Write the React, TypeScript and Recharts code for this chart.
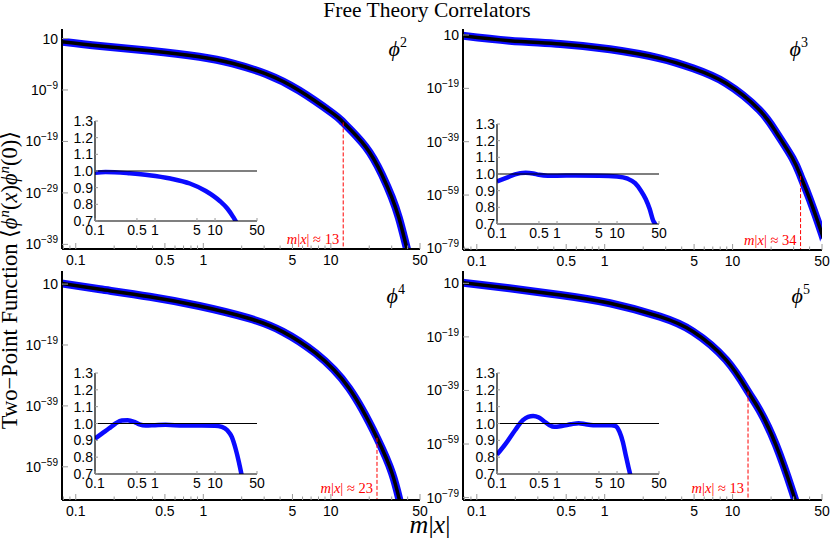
import React from 'react';
import { LineChart, Line, XAxis, YAxis, ReferenceLine, ReferenceDot } from 'recharts';

// ---------------- data ----------------
const mainXMajor = [0.1, 0.5, 1, 5, 10, 50];
const mainXMinor = [0.08, 0.09, 0.2, 0.3, 0.4, 0.6, 0.7, 0.8, 0.9, 2, 3, 4, 6, 7, 8, 9, 20, 30, 40];
const insetXMajor = [0.1, 0.5, 1, 5, 10, 50];
const insetYTicks = [0.7, 0.8, 0.9, 1.0, 1.1, 1.2, 1.3];

// main curves: x = m|x|, value given as log10 of the correlator
const phi2X = [0.075, 0.155, 0.38, 0.93, 1.69, 3.1, 5.64, 10.3, 12.5, 18.7, 25.2, 30, 34.1, 38, 42];
const phi2LogY = [0.42, -0.45, -1.36, -2.53, -3.81, -5.89, -9.1, -13.5, -15.3, -20.0, -25.5, -29.8, -33.8, -38.2, -42.5];

const phi3X = [0.075, 0.18, 0.45, 1.1, 2.7, 4.9, 8.9, 16.2, 21.8, 29.4, 34, 40.1, 50, 52];
const phi3LogY = [0.8, -1.14, -2.38, -4.37, -7.75, -11.5, -17.1, -27.1, -35.3, -45.2, -51.9, -60.5, -73.6, -76.5];

const phi4X = [0.075, 0.155, 0.38, 0.93, 2.26, 4.18, 7.6, 13.9, 23, 30.2, 34.5, 37];
const phi4LogY = [1.3, -0.71, -3.14, -6.19, -10.2, -14.6, -21.7, -33.2, -49.5, -61.1, -69.9, -75];

const phi5X = [0.075, 0.18, 0.45, 1.1, 2.7, 4.9, 8.9, 13.2, 16.2, 21.8, 29.4, 32, 35];
const phi5LogY = [1.28, -0.86, -3.36, -6.45, -11.45, -17.0, -27.6, -39.4, -46.3, -59.3, -76.8, -82.5, -89];

// inset ratio curves
const ratio2X = [0.1, 0.15, 0.38, 0.8, 1.8, 3.8, 7, 12, 16, 20, 22, 24];
const ratio2Y = [0.99, 0.994, 0.986, 0.975, 0.955, 0.925, 0.88, 0.82, 0.775, 0.725, 0.70, 0.67];

const ratio3X = [0.1, 0.15, 0.2, 0.3, 0.4, 0.5, 0.7, 1, 2, 5, 10, 15, 20, 25, 30, 35, 40, 43, 46];
const ratio3Y = [0.955, 0.98, 0.998, 1.007, 1.003, 0.995, 0.99, 0.99, 0.991, 0.99, 0.985, 0.972, 0.945, 0.9, 0.85, 0.79, 0.72, 0.70, 0.66];

const ratio4X = [0.1, 0.13, 0.17, 0.22, 0.28, 0.35, 0.45, 0.55, 0.7, 1, 1.5, 3, 6, 10, 13, 16, 19, 22, 25, 27.5, 29];
const ratio4Y = [0.91, 0.94, 0.97, 1.0, 1.018, 1.02, 1.01, 0.995, 0.988, 0.99, 0.992, 0.988, 0.988, 0.987, 0.98, 0.96, 0.92, 0.85, 0.77, 0.70, 0.66];

const ratio5X = [0.1, 0.14, 0.2, 0.27, 0.33, 0.4, 0.5, 0.6, 0.75, 0.9, 1.2, 1.7, 2.3, 3, 4, 6, 8, 9.5, 11, 12.5, 14, 15.5, 16.5, 17.5];
const ratio5Y = [0.815, 0.88, 0.96, 1.02, 1.04, 1.045, 1.035, 1.015, 0.99, 0.98, 0.985, 0.995, 1.002, 0.995, 0.99, 0.99, 0.99, 0.985, 0.95, 0.89, 0.81, 0.74, 0.70, 0.66];

const powers = [2, 3, 4, 5];
const yRangeExp = [[-39.9, 2.85], [-79.6, 3.25], [-69.9, 5.3], [-79.9, 5.6]];
const yTickExps = [[1, -9, -19, -29, -39], [1, -19, -39, -59, -79], [1, -19, -39, -59], [1, -19, -39, -59, -79]];
const redX = [12.5, 34, 23, 13.2];
const redTopExp = [-15.3, -51.9, -49.5, -39.4];
const redText = ['13', '34', '23', '13'];
const xDomainMain = [0.078, 50];
const xDomainInset = [0.1, 50];

// ---------------- layout / style ----------------
const FONT_SANS = '"Liberation Sans", Arial, Helvetica, sans-serif';
const FONT_SERIF = '"Liberation Serif", "Times New Roman", "DejaVu Serif", serif';
const BLUE = '#0a0aff';
const TICK_FS = 14;

const mainFrames = [
  { l: 62, t: 29, r: 420, b: 249 },
  { l: 463, t: 29, r: 822, b: 250 },
  { l: 62, t: 271, r: 420, b: 500 },
  { l: 463, t: 271, r: 822, b: 500 },
];
const insetFrames = [
  { l: 95, t: 121, r: 257, b: 221 },
  { l: 497, t: 124, r: 659, b: 224 },
  { l: 95, t: 373, r: 257, b: 474 },
  { l: 497, t: 373, r: 659, b: 474 },
];
const redLabelOffset = [5.5, 5.5, 7.5, 7.5];
const phiLabelPos = [
  { x: 407, y: 56 },
  { x: 808, y: 56 },
  { x: 405, y: 303 },
  { x: 810, y: 303 },
];

const mainSeries = [
  { xs: phi2X, ys: phi2LogY },
  { xs: phi3X, ys: phi3LogY },
  { xs: phi4X, ys: phi4LogY },
  { xs: phi5X, ys: phi5LogY },
];
const ratioSeries = [
  { xs: ratio2X, ys: ratio2Y },
  { xs: ratio3X, ys: ratio3Y },
  { xs: ratio4X, ys: ratio4Y },
  { xs: ratio5X, ys: ratio5Y },
];

const fmtNum = (v: number) => String(v);

const mainXTick = (side: 'bottom' | 'top') => (p: any) => {
  const { x, y, payload } = p;
  const v = payload.value;
  const major = mainXMajor.includes(v);
  const len = major ? 6 : 3.5;
  const dir = side === 'top' ? 1 : -1;
  return (
    <g>
      <line x1={x} x2={x} y1={y} y2={y + dir * len} stroke="#9a9a9a" strokeWidth={1} />
      {major && side === 'bottom' ? (
        <text x={x} y={y + 16} textAnchor="middle" fontSize={TICK_FS} fontFamily={FONT_SANS} fill="#000">
          {fmtNum(v)}
        </text>
      ) : null}
    </g>
  );
};

const mainYTick = (side: 'left' | 'right') => (p: any) => {
  const { x, y, payload } = p;
  const e = Math.round(Math.log10(payload.value));
  const dir = side === 'left' ? 1 : -1;
  return (
    <g>
      <line x1={x} x2={x + dir * 6} y1={y} y2={y} stroke="#9a9a9a" strokeWidth={1} />
      {side === 'left' ? (
        <text x={x - 4} y={y + 5} textAnchor="end" fontSize={TICK_FS} fontFamily={FONT_SANS} fill="#000">
          {e === 1 ? (
            '10'
          ) : (
            <>
              10
              <tspan dy={-6} fontSize={10}>
                {'\u2212' + Math.abs(e)}
              </tspan>
            </>
          )}
        </text>
      ) : null}
    </g>
  );
};

const insetXTick = (side: 'bottom' | 'top') => (p: any) => {
  const { x, y, payload } = p;
  const dir = side === 'top' ? 1 : -1;
  return (
    <g>
      <line x1={x} x2={x} y1={y} y2={y + dir * 3} stroke="#9a9a9a" strokeWidth={1} />
      {side === 'bottom' ? (
        <text x={x} y={y + 14} textAnchor="middle" fontSize={TICK_FS} fontFamily={FONT_SANS} fill="#000">
          {fmtNum(payload.value)}
        </text>
      ) : null}
    </g>
  );
};

const insetYTick = (side: 'left' | 'right') => (p: any) => {
  const { x, y, payload } = p;
  const dir = side === 'left' ? 1 : -1;
  return (
    <g>
      <line x1={x} x2={x + dir * 3} y1={y} y2={y} stroke="#9a9a9a" strokeWidth={1} />
      {side === 'left' ? (
        <text x={x - 2} y={y + 5} textAnchor="end" fontSize={TICK_FS} fontFamily={FONT_SANS} fill="#000">
          {Number(payload.value).toFixed(1)}
        </text>
      ) : null}
    </g>
  );
};

function MainPanel({ idx }: { idx: number }) {
  const f = mainFrames[idx];
  const [lo, hi] = yRangeExp[idx];
  const yMin = Math.pow(10, lo);
  const yMax = Math.pow(10, hi);
  const ticks = yTickExps[idx].map((e) => Math.pow(10, e));
  const s = mainSeries[idx];
  const data = s.xs.map((x, i) => ({ x, y: Math.pow(10, s.ys[i]) }));
  const YW = 60;
  const XH = 30;
  const MT = 12;
  const MR = 16;
  const rx = redX[idx];
  const rTop = Math.pow(10, redTopExp[idx]);
  const off = redLabelOffset[idx];
  return (
    <div style={{ position: 'absolute', left: f.l - YW, top: f.t - MT }}>
      <LineChart
        width={f.r - f.l + YW + MR}
        height={f.b - f.t + MT + XH}
        margin={{ top: MT, right: MR, bottom: 0, left: 0 }}
      >
        <XAxis
          xAxisId="b"
          type="number"
          dataKey="x"
          scale="log"
          domain={xDomainMain}
          allowDataOverflow
          ticks={[...mainXMajor, ...mainXMinor]}
          interval={0}
          tickSize={0}
          tickMargin={0}
          height={XH}
          axisLine={{ stroke: '#000', strokeWidth: 2 }}
          tickLine={false}
          tick={mainXTick('bottom')}
        />
        <XAxis
          xAxisId="t"
          orientation="top"
          type="number"
          dataKey="x"
          scale="log"
          domain={xDomainMain}
          allowDataOverflow
          ticks={[...mainXMajor, ...mainXMinor]}
          interval={0}
          tickSize={0}
          tickMargin={0}
          height={0}
          axisLine={{ stroke: '#000', strokeWidth: 2 }}
          tickLine={false}
          tick={mainXTick('top')}
        />
        <YAxis
          yAxisId="l"
          type="number"
          scale="log"
          domain={[yMin, yMax]}
          allowDataOverflow
          ticks={ticks}
          interval={0}
          tickSize={0}
          tickMargin={0}
          width={YW}
          axisLine={{ stroke: '#000', strokeWidth: 2 }}
          tickLine={false}
          tick={mainYTick('left')}
        />
        <YAxis
          yAxisId="r"
          orientation="right"
          type="number"
          scale="log"
          domain={[yMin, yMax]}
          allowDataOverflow
          ticks={ticks}
          interval={0}
          tickSize={0}
          tickMargin={0}
          width={0}
          axisLine={{ stroke: '#000', strokeWidth: 2 }}
          tickLine={false}
          tick={mainYTick('right')}
        />
        <Line
          xAxisId="b"
          yAxisId="l"
          data={data}
          dataKey="y"
          type="natural"
          stroke={BLUE}
          strokeWidth={8}
          dot={false}
          isAnimationActive={false}
        />
        <Line
          xAxisId="b"
          yAxisId="l"
          data={data}
          dataKey="y"
          type="natural"
          stroke="#000"
          strokeWidth={3.5}
          dot={false}
          isAnimationActive={false}
        />
        <ReferenceLine
          xAxisId="b"
          yAxisId="l"
          segment={[
            { x: rx, y: rTop },
            { x: rx, y: yMin },
          ]}
          stroke="#ff0000"
          strokeWidth={1}
          strokeDasharray="4 2"
          ifOverflow="visible"
        />
        <ReferenceDot
          xAxisId="b"
          yAxisId="l"
          x={rx}
          y={yMin}
          r={0}
          ifOverflow="visible"
          shape={(p: any) => (
            <text
              x={p.cx - 4}
              y={p.cy - off}
              textAnchor="end"
              fontSize={14.5}
              fontFamily={FONT_SERIF}
              fill="#ff0000"
            >
              <tspan fontStyle="italic">m</tspan>|<tspan fontStyle="italic">x</tspan>| ≈ {redText[idx]}
            </text>
          )}
        />
      </LineChart>
    </div>
  );
}

function InsetPanel({ idx }: { idx: number }) {
  const f = insetFrames[idx];
  const s = ratioSeries[idx];
  const data = s.xs.map((x, i) => ({ x, y: s.ys[i] }));
  const YW = 35;
  const XH = 22;
  const MT = 10;
  const MR = 14;
  return (
    <div style={{ position: 'absolute', left: f.l - YW, top: f.t - MT }}>
      <LineChart
        width={f.r - f.l + YW + MR}
        height={f.b - f.t + MT + XH}
        margin={{ top: MT, right: MR, bottom: 0, left: 0 }}
      >
        <XAxis
          xAxisId="b"
          type="number"
          dataKey="x"
          scale="log"
          domain={xDomainInset}
          allowDataOverflow
          ticks={insetXMajor}
          interval={0}
          tickSize={0}
          tickMargin={0}
          height={XH}
          axisLine={{ stroke: '#000', strokeWidth: 1.2 }}
          tickLine={false}
          tick={insetXTick('bottom')}
        />
        <XAxis
          xAxisId="t"
          orientation="top"
          type="number"
          dataKey="x"
          scale="log"
          domain={xDomainInset}
          allowDataOverflow
          ticks={insetXMajor}
          interval={0}
          tickSize={0}
          tickMargin={0}
          height={0}
          axisLine={{ stroke: '#555', strokeWidth: 1 }}
          tickLine={false}
          tick={insetXTick('top')}
        />
        <YAxis
          yAxisId="l"
          type="number"
          domain={[0.7, 1.3]}
          allowDataOverflow
          ticks={insetYTicks}
          interval={0}
          tickSize={0}
          tickMargin={0}
          width={YW}
          axisLine={{ stroke: '#000', strokeWidth: 1.2 }}
          tickLine={false}
          tick={insetYTick('left')}
        />
        <YAxis
          yAxisId="r"
          orientation="right"
          type="number"
          domain={[0.7, 1.3]}
          allowDataOverflow
          ticks={insetYTicks}
          interval={0}
          tickSize={0}
          tickMargin={0}
          width={0}
          axisLine={{ stroke: '#555', strokeWidth: 1 }}
          tickLine={false}
          tick={insetYTick('right')}
        />
        <Line
          xAxisId="b"
          yAxisId="l"
          data={data}
          dataKey="y"
          type="monotone"
          stroke={BLUE}
          strokeWidth={4.5}
          dot={false}
          isAnimationActive={false}
        />
        <ReferenceLine xAxisId="b" yAxisId="l" y={1} stroke="#000" strokeWidth={1.2} />
      </LineChart>
    </div>
  );
}

export default function App() {
  return (
    <div
      style={{
        position: 'absolute',
        left: 0,
        top: 0,
        width: 830,
        height: 546,
        background: '#fff',
        overflow: 'hidden',
      }}
    >
      {powers.map((_, i) => (
        <MainPanel key={'m' + i} idx={i} />
      ))}
      {powers.map((_, i) => (
        <InsetPanel key={'i' + i} idx={i} />
      ))}
      <svg
        width={830}
        height={546}
        style={{ position: 'absolute', left: 0, top: 0, pointerEvents: 'none' }}
      >
        <text x={427} y={17} textAnchor="middle" fontSize={21.5} fontFamily={FONT_SERIF} fill="#000">
          Free Theory Correlators
        </text>
        <text
          x={0}
          y={0}
          transform="translate(17,280) rotate(-90)"
          textAnchor="middle"
          fontSize={22.5}
          fontFamily={FONT_SERIF}
          fill="#000"
        >
          Two{'\u2212'}Point Function {'\u27E8'}
          <tspan fontStyle="italic">ϕ</tspan>
          <tspan dy={-8} fontSize={15} fontStyle="italic">n</tspan>
          <tspan dy={8}>(</tspan>
          <tspan fontStyle="italic">x</tspan>)<tspan fontStyle="italic">ϕ</tspan>
          <tspan dy={-8} fontSize={15} fontStyle="italic">n</tspan>
          <tspan dy={8}>(0){'\u27E9'}</tspan>
        </text>
        <text x={430} y={533} textAnchor="middle" fontSize={26} fontFamily={FONT_SERIF} fill="#000">
          <tspan fontStyle="italic">m</tspan>|<tspan fontStyle="italic">x</tspan>|
        </text>
        {powers.map((n, i) => (
          <text
            key={'p' + i}
            x={phiLabelPos[i].x}
            y={phiLabelPos[i].y}
            textAnchor="end"
            fontSize={22}
            fontFamily={FONT_SERIF}
            fill="#000"
          >
            <tspan fontStyle="italic">ϕ</tspan>
            <tspan dy={-9} fontSize={14}>
              {n}
            </tspan>
          </text>
        ))}
      </svg>
    </div>
  );
}
